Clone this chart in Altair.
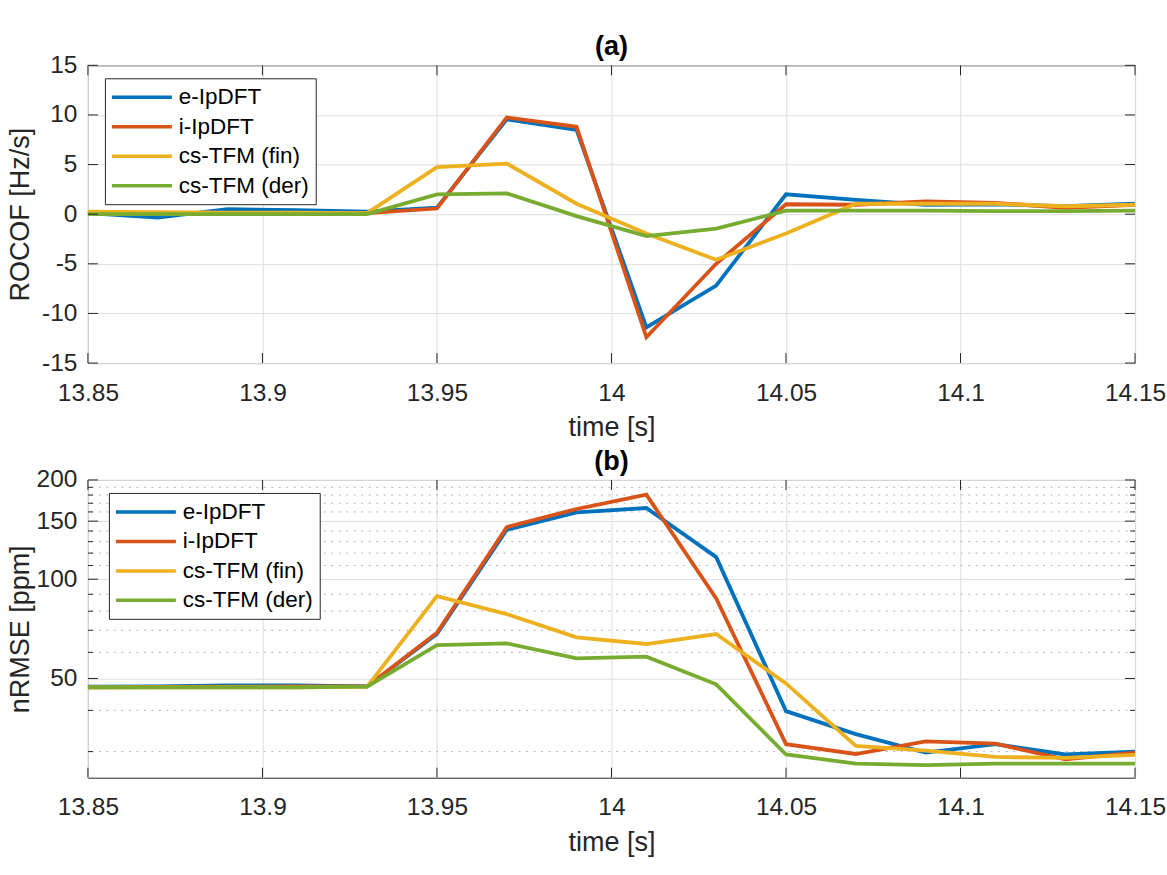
import altair as alt
import pandas as pd

# Time stamps of the reporting instants [s]
time_s = [13.85, 13.87, 13.89, 13.91, 13.93, 13.95, 13.97, 13.99,
          14.01, 14.03, 14.05, 14.07, 14.09, 14.11, 14.13, 14.15]

series_names = ["e-IpDFT", "i-IpDFT", "cs-TFM (fin)", "cs-TFM (der)"]
series_colors = ["#0072BD", "#D95319", "#EDB120", "#77AC30"]

# (a) ROCOF estimates [Hz/s]
rocof_e_ipdft = [0.1, -0.35, 0.5, 0.4, 0.25, 0.65, 9.55, 8.5, -11.4, -7.2, 2.0, 1.45, 0.95, 1.0, 0.8, 1.05]
rocof_i_ipdft = [0.2, 0.1, 0.1, 0.1, 0.1, 0.57, 9.75, 8.8, -12.4, -5.0, 1.0, 0.95, 1.3, 1.15, 0.65, 0.95]
rocof_cs_fin = [0.25, 0.2, 0.15, 0.15, 0.1, 4.75, 5.1, 1.05, -1.95, -4.6, -1.95, 1.05, 1.05, 1.05, 0.8, 0.95]
rocof_cs_der = [0.0, 0.0, 0.0, 0.0, 0.0, 2.0, 2.1, -0.2, -2.2, -1.45, 0.35, 0.35, 0.35, 0.3, 0.3, 0.35]

# (b) nRMSE [ppm]
nrmse_e_ipdft = [47.2, 47.3, 47.6, 47.6, 47.3, 68.2, 141.2, 159.4, 164.4, 116.7, 39.8, 33.9, 29.8, 31.6, 29.4, 30.0]
nrmse_i_ipdft = [47.0, 47.1, 47.2, 47.3, 47.3, 68.8, 143.9, 163.3, 180.4, 87.5, 31.6, 29.5, 32.2, 31.7, 28.4, 29.8]
nrmse_cs_fin = [47.0, 47.0, 47.0, 47.0, 47.2, 88.9, 78.4, 66.6, 63.6, 68.2, 48.3, 31.2, 30.2, 28.9, 28.7, 29.3]
nrmse_cs_der = [47.0, 47.0, 47.0, 47.0, 47.2, 63.1, 63.9, 57.5, 58.2, 48.0, 29.4, 27.6, 27.3, 27.6, 27.6, 27.6]

# Axis ticks
x_ticks = [13.85, 13.9, 13.95, 14.0, 14.05, 14.1, 14.15]
rocof_ticks = [-15, -10, -5, 0, 5, 10, 15]
nrmse_ticks = [50, 100, 150, 200]
nrmse_minor = [30, 40, 60, 70, 80, 90, 110, 120, 130, 140, 160, 170, 180, 190]

W, H = 1048, 298
FONT = "Liberation Sans"
INK = "#262626"
TICK_LEN = 10
MINOR_LEN = 5


def series_frame(name, values):
    return pd.DataFrame({"t": time_s, "v": values, "series": name})


def panel(title, y_title, columns, y_domain, y_ticks, y_type, legend_x, minor=None):
    x_scale = alt.Scale(domain=[13.85, 14.15], nice=False, zero=False)
    y_scale = alt.Scale(domain=y_domain, type=y_type, nice=False, zero=False)
    x_enc = alt.X(
        "t:Q", scale=x_scale,
        axis=alt.Axis(values=x_ticks, title="time [s]", labelExpr="'' + datum.value"),
    )
    y_enc = alt.Y(
        "v:Q", scale=y_scale,
        axis=alt.Axis(values=y_ticks, title=y_title, labelExpr="'' + datum.value"),
    )
    color = alt.Color(
        "series:N",
        scale=alt.Scale(domain=series_names, range=series_colors),
        legend=alt.Legend(title=None, orient="none", legendX=legend_x, legendY=13),
    )

    layers = []
    if minor is not None:
        minor_df = pd.DataFrame({"v": minor})
        layers.append(
            alt.Chart(minor_df).mark_rule(color="#b4b4b4", strokeWidth=1, strokeDash=[2, 5.5])
            .encode(y=y_enc)
        )
        for x0, x1 in ((0, MINOR_LEN), (W - MINOR_LEN, W)):
            layers.append(
                alt.Chart(minor_df).mark_rule(color=INK, strokeWidth=1)
                .encode(y=y_enc, x=alt.value(x0), x2=alt.value(x1))
            )

    # one layer per series so later series are drawn on top
    for name, values in zip(series_names, columns):
        layers.append(
            alt.Chart(series_frame(name, values)).mark_line(strokeWidth=3.8)
            .encode(x=x_enc, y=y_enc, color=color)
        )

    # inward ticks on all four sides of the box
    xt = pd.DataFrame({"t": x_ticks})
    yt = pd.DataFrame({"v": y_ticks})
    for y0, y1 in ((H - TICK_LEN, H), (0, TICK_LEN)):
        layers.append(
            alt.Chart(xt).mark_rule(color=INK, strokeWidth=1)
            .encode(x=x_enc, y=alt.value(y0), y2=alt.value(y1))
        )
    for x0, x1 in ((0, TICK_LEN), (W - TICK_LEN, W)):
        layers.append(
            alt.Chart(yt).mark_rule(color=INK, strokeWidth=1)
            .encode(y=y_enc, x=alt.value(x0), x2=alt.value(x1))
        )

    return alt.layer(*layers).properties(
        width=W, height=H,
        title=alt.TitleParams(title, fontSize=27, fontWeight="bold", font=FONT,
                              color="black", anchor="middle", offset=-9),
    )


top = panel(
    "(a)", "ROCOF [Hz/s]",
    [rocof_e_ipdft, rocof_i_ipdft, rocof_cs_fin, rocof_cs_der],
    [-15, 15], rocof_ticks, "linear", 17,
)
bottom = panel(
    "(b)", "nRMSE [ppm]",
    [nrmse_e_ipdft, nrmse_i_ipdft, nrmse_cs_fin, nrmse_cs_der],
    [25, 200], nrmse_ticks, "log", 21, minor=nrmse_minor,
)

chart = (
    alt.vconcat(top, bottom, spacing=117, bounds="flush")
    .resolve_scale(color="independent")
    .resolve_legend(color="independent")
    .properties(padding={"left": 6, "top": 32, "right": 0, "bottom": 5}, background="white")
    .configure_view(stroke=INK, strokeWidth=1)
    .configure_axis(
        domain=False, ticks=False, grid=True, gridColor="#dedede", gridWidth=1,
        labelFont=FONT, labelFontSize=24.5, labelColor=INK, labelFlush=False, labelOverlap=False,
        titleFont=FONT, titleFontSize=27, titleColor=INK, titleFontWeight="normal",
    )
    .configure_axisX(labelPadding=18, titlePadding=10)
    .configure_axisY(labelPadding=11, minExtent=47, maxExtent=47, titlePadding=12,
                     titleBaseline="alphabetic")
    .configure_legend(
        symbolType="M-3,0H3", symbolSize=400, symbolStrokeWidth=3.5, symbolOffset=18,
        labelFont=FONT, labelFontSize=22.5, labelColor="black", labelOffset=25,
        strokeColor=INK, fillColor="white", padding=7, rowPadding=5.5, cornerRadius=0,
    )
)

chart.save("out.html", embed_options={"renderer": "svg", "actions": False})
